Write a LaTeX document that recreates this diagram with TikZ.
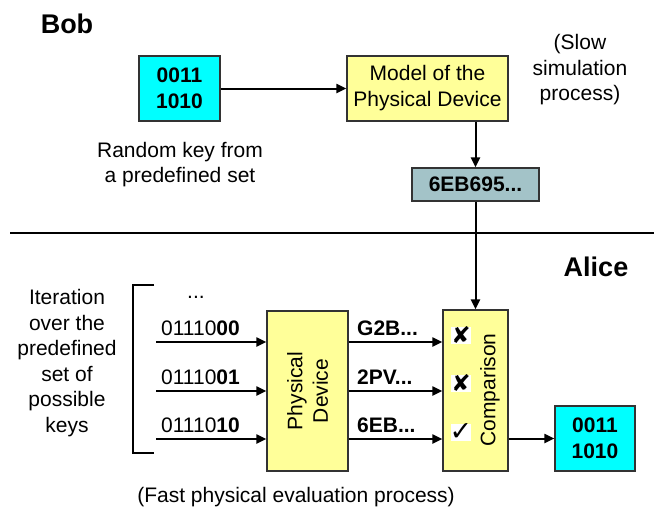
\documentclass[tikz,border=0pt]{standalone}
\usepackage{fontspec}
\setmainfont{Liberation Sans}
\newfontfamily\symfont{DejaVu Sans}
\usetikzlibrary{arrows.meta}
\begin{document}
\begin{tikzpicture}[x=1pt,y=-1pt,
  box/.style={draw=black!80, line width=1.2pt, inner sep=0pt, align=center, font=\fontsize{21}{26}\selectfont},
  txt/.style={inner sep=0pt, align=center, font=\fontsize{21}{25.5}\selectfont},
  bold/.style={txt, font=\fontsize{21}{25.5}\selectfont\bfseries},
  arr/.style={line width=2pt, -{Triangle[length=10pt,width=9pt]}},
  chk/.style={fill=white, inner sep=0pt, minimum width=16pt, minimum height=17pt, font=\symfont\fontsize{23}{23}\selectfont},
]
\useasboundingbox (0,0) rectangle (654,515);
\definecolor{cyanbox}{RGB}{0,255,255}
\definecolor{yelbox}{RGB}{255,255,153}
\definecolor{graybox}{RGB}{163,195,200}

% Bob part
\node[txt, font=\fontsize{27}{30}\selectfont\bfseries] (bob) at (67,24) {Bob};
\node[box, fill=cyanbox, minimum width=81pt, minimum height=65pt, font=\fontsize{21}{26}\selectfont\bfseries] (key1) at (179.5,88.5) {0011\\1010};
\node[box, fill=yelbox, minimum width=161pt, minimum height=65pt] (model) at (427.5,88.5) {Model of the\\Physical Device};
\node[txt] (slow) at (580,70) {(Slow\\simulation\\process)};
\node[txt] (rand) at (180,164.5) {Random key from\\a predefined set};
\node[box, fill=graybox, minimum width=127pt, minimum height=33pt, font=\fontsize{21}{26}\selectfont\bfseries] (hash) at (475.5,184.5) {6EB695...};
\draw[arr] (key1) -- (model);
\draw[arr] (model.south -| hash.north) -- (hash.north);

% separator
\coordinate (sepL) at (10,233);
\coordinate (sepR) at (654,233);
\draw[line width=1.5pt] (sepL) -- (sepR);

% Alice part
\node[txt, font=\fontsize{27}{30}\selectfont\bfseries] (alice) at (596,267) {Alice};
\node[txt] (iter) at (67,363) {Iteration\\over the\\predefined\\set of\\possible\\keys};
\coordinate (brT) at (154,285);
\coordinate (brB) at (154,453);
\draw[line width=1.2pt] (brT) -- (133,285) -- (133,453) -- (brB);
\node[txt] (dots) at (196,297) {...};

\node[box, fill=yelbox, minimum width=81pt, minimum height=160pt] (pd) at (307.5,391) {};
\node[txt, rotate=90] (pdtext) at (pd.center) {Physical\\Device};
\node[box, fill=yelbox, minimum width=65pt, minimum height=161pt] (cmp) at (475.5,390.5) {};
\node[txt, rotate=90] (cmptext) at (490,390) {Comparison};
\draw[arr] (hash.south) -- (cmp.north);

\coordinate (i1) at (156,342);
\coordinate (i2) at (156,391);
\coordinate (i3) at (156,439);
\draw[arr] (i1) -- (i1 -| pd.west);
\draw[arr] (i2) -- (i2 -| pd.west);
\draw[arr] (i3) -- (i3 -| pd.west);
\draw[arr] (i1 -| pd.east) -- (i1 -| cmp.west);
\draw[arr] (i2 -| pd.east) -- (i2 -| cmp.west);
\draw[arr] (i3 -| pd.east) -- (i3 -| cmp.west);

\node[txt, anchor=west] (k1) at (161,328) {01110\textbf{00}};
\node[txt, anchor=west] (k2) at (161,377) {01110\textbf{01}};
\node[txt, anchor=west] (k3) at (161,425) {01110\textbf{10}};
\node[bold, anchor=west] (o1) at (357,328) {G2B...};
\node[bold, anchor=west] (o2) at (357,377) {2PV...};
\node[bold, anchor=west] (o3) at (357,425) {6EB...};

\node[chk] (c1) at (461,335) {✘};
\node[chk] (c2) at (461,383) {✘};
\node[chk, font=\symfont\fontsize{27}{27}\selectfont, inner sep=-1pt] (c3) at (461,432) {✓};

\node[box, fill=cyanbox, minimum width=80pt, minimum height=65pt, font=\fontsize{21}{26}\selectfont\bfseries] (key2) at (595,438.5) {0011\\1010};
\draw[arr] (cmp.east |- key2.west) -- (key2.west);

\node[txt] (fast) at (296,497) {(Fast physical evaluation process)};
\end{tikzpicture}
\end{document}
